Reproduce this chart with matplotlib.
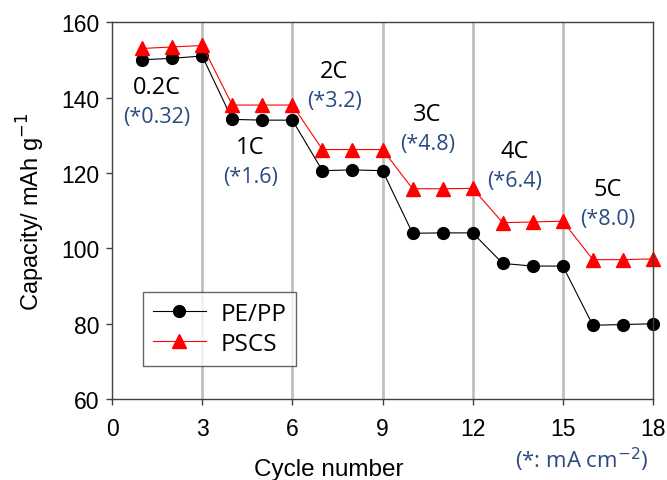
import matplotlib
matplotlib.use("Agg")
import matplotlib.pyplot as plt

# data
cycles = list(range(1, 19))
pe_pp = [150.0, 150.4, 151.0, 134.2, 134.0, 134.0, 120.6, 120.8, 120.6,
         104.0, 104.1, 104.1, 96.0, 95.3, 95.3, 79.6, 79.8, 80.0]
pscs = [153.0, 153.4, 153.8, 138.0, 138.0, 138.0, 126.2, 126.2, 126.2,
        115.8, 115.8, 115.9, 106.8, 107.0, 107.2, 97.0, 97.0, 97.2]
boundaries = [3, 6, 9, 12, 15]
rate_labels = ["0.2C", "1C", "2C", "3C", "4C", "5C"]
current_labels = ["(*0.32)", "(*1.6)", "(*3.2)", "(*4.8)", "(*6.4)", "(*8.0)"]
label_x = [1.5, 4.6, 7.4, 10.5, 13.4, 16.5]
label_y = [142.8, 126.8, 147.0, 135.6, 125.8, 115.7]

ann_font = "Open Sans"
blue = "#2B4A80"

fig = plt.figure(figsize=(6.67, 4.81), dpi=100)
ax = fig.add_axes([0.168, 0.168, 0.811, 0.784])

for b in boundaries:
    ax.axvline(b, color="#c0c0c0", lw=2, zorder=0)

ax.plot(cycles, pe_pp, color="black", lw=0.8, marker="o", ms=8.5, label="PE/PP", clip_on=False)
ax.plot(cycles, pscs, color="red", lw=0.8, marker="^", ms=10, label="PSCS", clip_on=False)

for x, y, r, c in zip(label_x, label_y, rate_labels, current_labels):
    ax.text(x, y, r, ha="center", va="center", fontsize=17, family=ann_font, color="black")
    ax.text(x, y - 7.8, c, ha="center", va="center", fontsize=15.5, family=ann_font, color=blue)

ax.set_xlim(0, 18)
ax.set_ylim(60, 160)
ax.set_xticks(range(0, 19, 3))
ax.set_yticks(range(60, 161, 20))
ax.tick_params(direction="out", labelsize=16.5, length=4, width=1, color="#404040")
ax.tick_params(axis="x", pad=9)
ax.tick_params(axis="y", pad=5)
for lab in ax.get_xticklabels() + ax.get_yticklabels():
    lab.set_family("Liberation Sans")
for s in ax.spines.values():
    s.set_color("#404040")
    s.set_linewidth(1)

ax.set_ylabel("Capacity/ mAh g$^{-1}$", fontsize=17, family="Liberation Sans", labelpad=10)
fig.text(0.493, 0.022, "Cycle number", ha="center", va="center", fontsize=17.5, family="Liberation Sans")
fig.text(0.873, 0.044, "(*: mA cm$^{-2}$)", ha="center", va="center", fontsize=16, family=ann_font, color=blue)

leg = ax.legend(loc="upper left", bbox_to_anchor=(0.057, 0.284), borderaxespad=0,
                prop={"family": ann_font, "size": 17.5},
                fancybox=False, edgecolor="#404040", handlelength=2.2, handletextpad=0.6,
                borderpad=0.4, labelspacing=0.25)
leg.get_frame().set_linewidth(1)

fig.savefig("out.png", dpi=100)
